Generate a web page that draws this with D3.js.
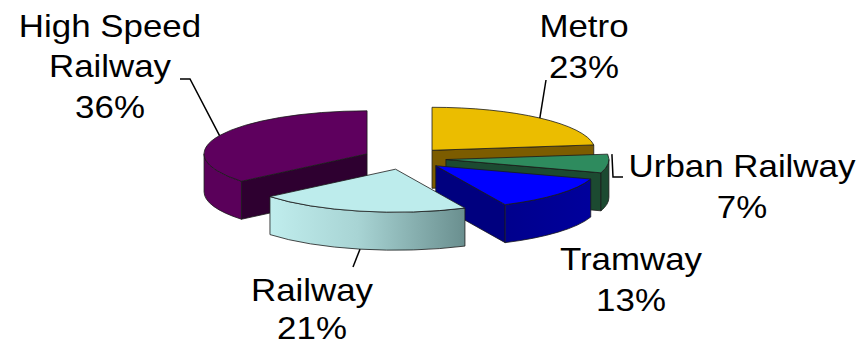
<!DOCTYPE html>
<html><head><meta charset="utf-8">
<script src="https://cdn.jsdelivr.net/npm/d3@7"></script>
<style>html,body{margin:0;padding:0;background:#fff;}svg{display:block;}</style>
</head><body>
<svg id="c" width="863" height="347"></svg>
<script>
// ---- data ----
const categories = ["Metro", "Urban Railway", "Tramway", "Railway", "High Speed Railway"];
const values = [23, 7, 13, 21, 36];
const labelLines = [["Metro"], ["Urban Railway"], ["Tramway"], ["Railway"], ["High Speed", "Railway"]];
const topColors = ["#ebbd00", "#2e8b5e", "#0000ff", "#bdecec", "#5e005e"];
const sideColors = ["#7c5c00", "#1c4a31", "#000088", "#bdecec", "#5a005a"];
const faceColors = ["#7c5c00", "#1c4a31", "#00007f", "#8fbcbc", "#2e0030"];

// ---- layout ----
const CX = 404.6, CY = 158.5, RX = 163, RY = 43, DEPTH = 38, EXPLODE = 41.5;
const FONT = 32, SX = 1.09;
// label centre x / first baseline y / line spacing, and leader elbows
const labelLayout = [
  {x: 584, y: 37, lh: 41, anchor: "top", leader: [[546, 80]]},
  {x: 742, y: 177, lh: 41, anchor: "tip", leader: [[613, 177], [623, 177]]},
  {x: 631, y: 270, lh: 41, anchor: null, leader: []},
  {x: 312, y: 301, lh: 38, anchor: "bottom", leader: [[353, 267]]},
  {x: 110, y: 37, lh: 40.5, anchor: "top", leader: [[190, 79], [180, 79]]}
];

const svg = d3.select("#c");
const defs = svg.append("defs");
const pie = d3.pie().sort(null).value(d => d)(values);

const slices = pie.map((p, i) => {
  const mid = (p.startAngle + p.endAngle) / 2;
  const ax = CX + EXPLODE * Math.sin(mid);
  const ay = CY - EXPLODE * (RY / RX) * Math.cos(mid);
  return {i, a0: p.startAngle, a1: p.endAngle, mid, ax, ay, value: p.data};
});
const pt = (s, t, dz = 0) => [s.ax + RX * Math.sin(t), s.ay - RY * Math.cos(t) + dz];

slices.forEach(s => {
  if (s.i === 3) {
    const g = defs.append("linearGradient").attr("id", "g3").attr("gradientUnits", "userSpaceOnUse")
      .attr("x1", pt(s, s.a1)[0]).attr("x2", pt(s, s.a0)[0]).attr("y1", 0).attr("y2", 0);
    g.append("stop").attr("offset", 0).attr("stop-color", "#c0eded");
    g.append("stop").attr("offset", 0.45).attr("stop-color", "#a8d4d4");
    g.append("stop").attr("offset", 1).attr("stop-color", "#6a8f8f");
  }
  if (s.i === 2) {
    const g = defs.append("linearGradient").attr("id", "g2").attr("gradientUnits", "userSpaceOnUse")
      .attr("x1", s.ax).attr("x2", pt(s, s.a0)[0]).attr("y1", 0).attr("y2", 0);
    g.append("stop").attr("offset", 0).attr("stop-color", "#000080");
    g.append("stop").attr("offset", 1).attr("stop-color", "#00009c");
  }
});

const order = slices.slice().sort((a, b) => Math.cos(b.mid) - Math.cos(a.mid));
const stroke = "#1a1a1a", sw = 0.8;
const gPie = svg.append("g");

order.forEach(s => {
  const g = gPie.append("g");
  const poly = pts => { const p = d3.path(); p.moveTo(...pts[0]); pts.slice(1).forEach(q => p.lineTo(...q)); p.closePath(); return p.toString(); };
  if (Math.sin(s.a0) < -1e-6) {
    g.append("path").attr("d", poly([[s.ax, s.ay], pt(s, s.a0), pt(s, s.a0, DEPTH), [s.ax, s.ay + DEPTH]]))
      .attr("fill", faceColors[s.i]).attr("stroke", stroke).attr("stroke-width", sw).attr("stroke-linejoin", "round");
  }
  if (Math.sin(s.a1) > 1e-6) {
    g.append("path").attr("d", poly([[s.ax, s.ay], pt(s, s.a1), pt(s, s.a1, DEPTH), [s.ax, s.ay + DEPTH]]))
      .attr("fill", faceColors[s.i]).attr("stroke", stroke).attr("stroke-width", sw).attr("stroke-linejoin", "round");
  }
  const b0 = Math.max(s.a0, Math.PI / 2), b1 = Math.min(s.a1, 3 * Math.PI / 2);
  if (b1 > b0) {
    const lg = (b1 - b0) > Math.PI ? 1 : 0;
    const p0 = pt(s, b0), p1 = pt(s, b1), q1 = pt(s, b1, DEPTH), q0 = pt(s, b0, DEPTH);
    const d = `M${p0}A${RX},${RY} 0 ${lg} 1 ${p1}L${q1}A${RX},${RY} 0 ${lg} 0 ${q0}Z`;
    const fill = s.i === 3 ? "url(#g3)" : s.i === 2 ? "url(#g2)" : sideColors[s.i];
    g.append("path").attr("d", d).attr("fill", fill).attr("stroke", stroke).attr("stroke-width", sw).attr("stroke-linejoin", "round");
  }
  const lg = (s.a1 - s.a0) > Math.PI ? 1 : 0;
  const d = `M${s.ax},${s.ay}L${pt(s, s.a0)}A${RX},${RY} 0 ${lg} 1 ${pt(s, s.a1)}Z`;
  g.append("path").attr("d", d).attr("fill", topColors[s.i]).attr("stroke", stroke).attr("stroke-width", sw).attr("stroke-linejoin", "round");
});

const gLab = svg.append("g");
slices.forEach(s => {
  const L = labelLayout[s.i];
  if (L.anchor) {
    let start;
    if (L.anchor === "top") start = pt(s, s.mid);
    else if (L.anchor === "bottom") start = pt(s, s.mid, DEPTH);
    else start = [pt(s, Math.PI / 2)[0] + 3, pt(s, s.a0)[1]];
    gLab.append("path").attr("d", d3.line()([start, ...L.leader])).attr("fill", "none")
      .attr("stroke", "#000").attr("stroke-width", 1.5);
  }
  const lines = [...labelLines[s.i], s.value + "%"];
  const t = gLab.append("g").attr("transform", `translate(${L.x},0) scale(${SX},1)`);
  lines.forEach((txt, k) => {
    t.append("text").attr("x", 0).attr("y", L.y + k * L.lh)
      .attr("text-anchor", "middle").attr("font-family", "'Liberation Sans', Arial, sans-serif")
      .attr("font-size", FONT).attr("fill", "#000").text(txt);
  });
});
</script>
</body></html>
